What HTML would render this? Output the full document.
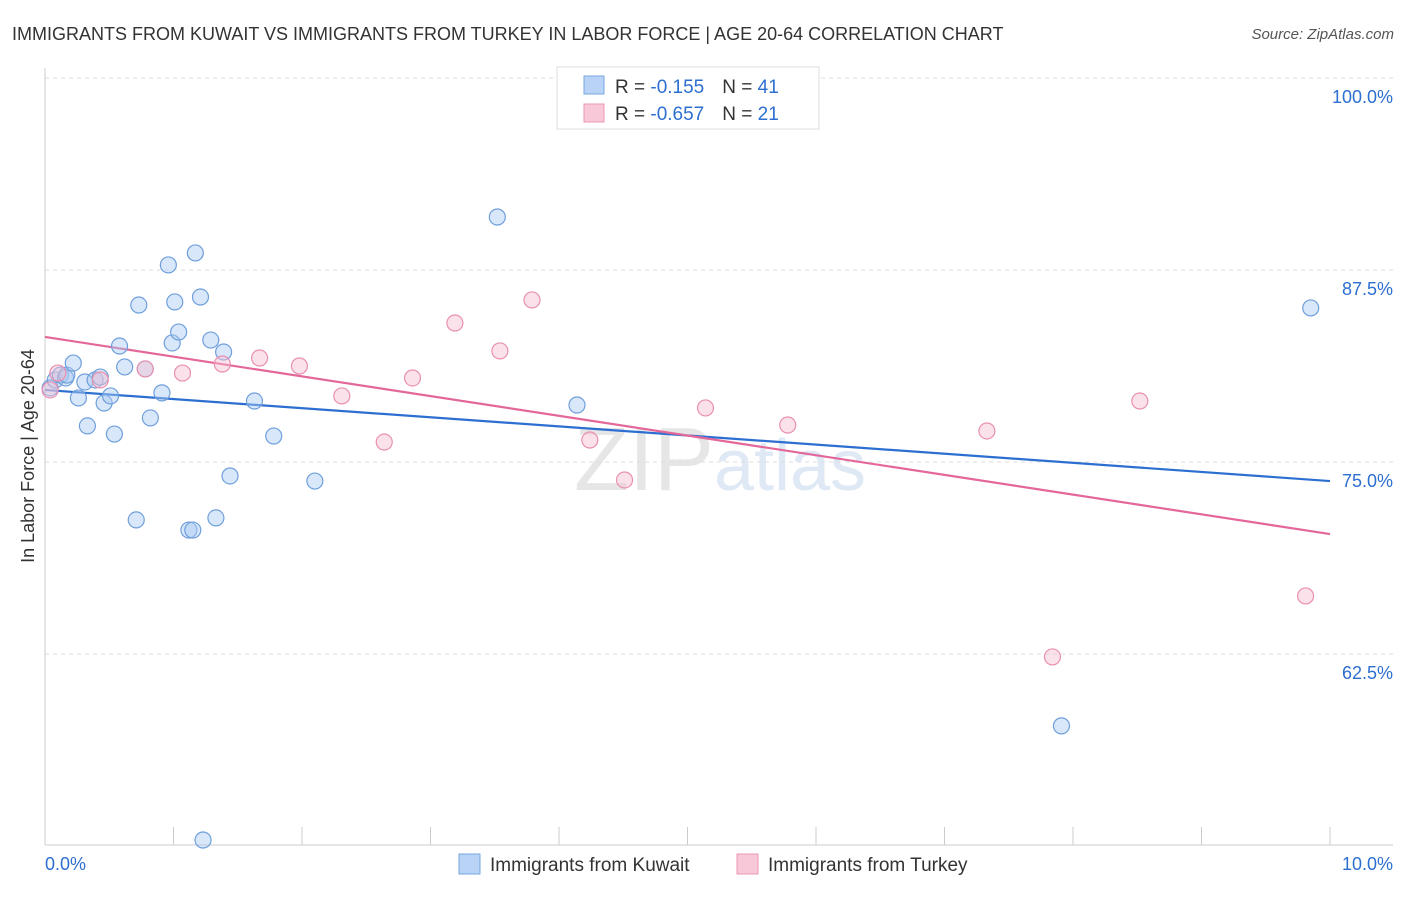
<!DOCTYPE html>
<html><head><meta charset="utf-8">
<style>
body{margin:0;background:#fff;font-family:"Liberation Sans",sans-serif;}
svg text{font-family:"Liberation Sans",sans-serif;}
</style></head>
<body>
<svg id="chart" width="1406" height="892" viewBox="0 0 1406 892" xmlns="http://www.w3.org/2000/svg">
<text x="12" y="40" font-size="18" fill="#333">IMMIGRANTS FROM KUWAIT VS IMMIGRANTS FROM TURKEY IN LABOR FORCE | AGE 20-64 CORRELATION CHART</text>
<text x="1394" y="39" font-size="15" fill="#555" font-style="italic" text-anchor="end">Source: ZipAtlas.com</text>
<text x="720" y="490" font-size="90" text-anchor="middle" fill="#e6e6e6" font-family="Liberation Serif">ZIP<tspan fill="#dfe8f5" font-family="Liberation Sans" font-size="72">atlas</tspan></text>
<g id="grid"></g>
<g id="axes"></g>
<g id="trends"></g>
<g id="points"></g>
<text transform="translate(34,456) rotate(-90)" font-size="18" fill="#333" text-anchor="middle">In Labor Force | Age 20-64</text>
<g>
<rect x="557" y="67" width="262" height="62" fill="#fff" stroke="#ddd"/>
<rect x="584" y="76" width="20" height="18" fill="#b8d3f5" stroke="#7aa7e0"/>
<rect x="584" y="104" width="20" height="18" fill="#f9c8d8" stroke="#eb97b3"/>
<text x="615" y="93" font-size="19" fill="#333">R = <tspan fill="#2d6fd1">-0.155</tspan><tspan dx="18">N = </tspan><tspan fill="#2d6fd1">41</tspan></text>
<text x="615" y="120" font-size="19" fill="#333">R = <tspan fill="#2d6fd1">-0.657</tspan><tspan dx="18">N = </tspan><tspan fill="#2d6fd1">21</tspan></text>
</g>
<g>
<rect x="459" y="854" width="21" height="20" fill="#b8d3f5" stroke="#7aa7e0"/>
<text x="490" y="871" font-size="19" fill="#333">Immigrants from Kuwait</text>
<rect x="737" y="854" width="21" height="20" fill="#f9c8d8" stroke="#eb97b3"/>
<text x="768" y="871" font-size="19" fill="#333">Immigrants from Turkey</text>
</g>
</svg>
<script>
const yTicks=[100,87.5,75,62.5];
const yTickLabels=["100.0%","87.5%","75.0%","62.5%"];
const xLabels=["0.0%","10.0%"];
const kuwaitX=[.04,.08,.12,.16,.17,.22,.26,.31,.33,.39,.43,.46,.51,.54,.58,.62,.71,.73,.78,.82,.91,.96,.99,1.01,1.04,1.12,1.15,1.17,1.21,1.23,1.29,1.33,1.39,1.44,1.63,1.78,2.10,3.52,4.14,7.91,9.85];
const kuwaitY=[79.82,80.34,80.66,80.47,80.66,81.44,79.17,80.21,77.35,80.34,80.53,78.84,79.30,76.82,82.55,81.19,71.23,85.22,81.06,77.87,79.50,87.83,82.75,85.42,83.46,70.57,70.57,88.61,85.74,50.39,82.94,71.36,82.16,74.09,78.97,76.69,73.76,90.95,78.71,57.82,85.03];
const turkeyX=[.04,.10,.43,.78,1.07,1.38,1.67,1.98,2.31,2.64,2.86,3.19,3.54,3.79,4.24,4.51,5.14,5.78,7.33,7.84,8.52,9.81];
const turkeyY=[79.69,80.79,80.34,81.06,80.79,81.38,81.77,81.25,79.30,76.30,80.47,84.05,82.23,85.55,76.43,73.83,78.52,77.41,77.02,62.31,78.97,66.28];
const kuwaitTrend=[79.69,73.76];
const turkeyTrend=[83.14,70.31];
const NS="http://www.w3.org/2000/svg";
const X0=45,X1=1330,Y100=78,PX=192/12.5;
const sx=v=>X0+(X1-X0)*v/10;
const sy=v=>Y100+(100-v)*PX;
function mk(tag,attrs,parent){const e=document.createElementNS(NS,tag);for(const k in attrs)e.setAttribute(k,attrs[k]);document.getElementById(parent).appendChild(e);return e;}
yTicks.forEach((t,i)=>{
 const l=mk('line',{x1:X0,x2:1393,y1:sy(t),y2:sy(t),stroke:'#ddd','stroke-dasharray':'4,4'},'grid');
 
 
 const tx=mk('text',{x:1393,y:sy(t)+25,'font-size':18,fill:'#2d6fd1','text-anchor':'end'},'grid');
 tx.textContent=yTickLabels[i];
 
 
});
mk('line',{x1:X0,x2:X0,y1:68,y2:845,stroke:'#ccc'},'axes');
mk('line',{x1:X0,x2:1393,y1:845,y2:845,stroke:'#ccc'},'axes');
for(let i=1;i<=10;i++){const t=mk('line',{x1:sx(i),x2:sx(i),y1:827,y2:845,stroke:'#ccc'},'axes');
 
 }
[[0,'start',45],[10,'end',1393]].forEach((d,i)=>{const t=mk('text',{x:d[2],y:870,'font-size':18,fill:'#2d6fd1','text-anchor':d[1]},'axes');t.textContent=xLabels[i];
 
 });
function drawPts(xs,ys,fill,stroke,name){xs.forEach((x,i)=>{const c=mk('circle',{cx:sx(x),cy:sy(ys[i]),r:8,fill:fill,'fill-opacity':0.45,stroke:stroke,'stroke-width':1.2},'points');
 
 });}
drawPts(kuwaitX,kuwaitY,'#a9c9f2','#6f9fdc','kuwait-point');
drawPts(turkeyX,turkeyY,'#f7bfd1','#e98fb0','turkey-point');
const lk=mk('line',{x1:sx(0),y1:sy(kuwaitTrend[0]),x2:sx(10),y2:sy(kuwaitTrend[1]),stroke:'#2d6fd1','stroke-width':2.2},'trends');


const lt=mk('line',{x1:sx(0),y1:sy(turkeyTrend[0]),x2:sx(10),y2:sy(turkeyTrend[1]),stroke:'#e4679a','stroke-width':2.2},'trends');


</script>
</body></html>
